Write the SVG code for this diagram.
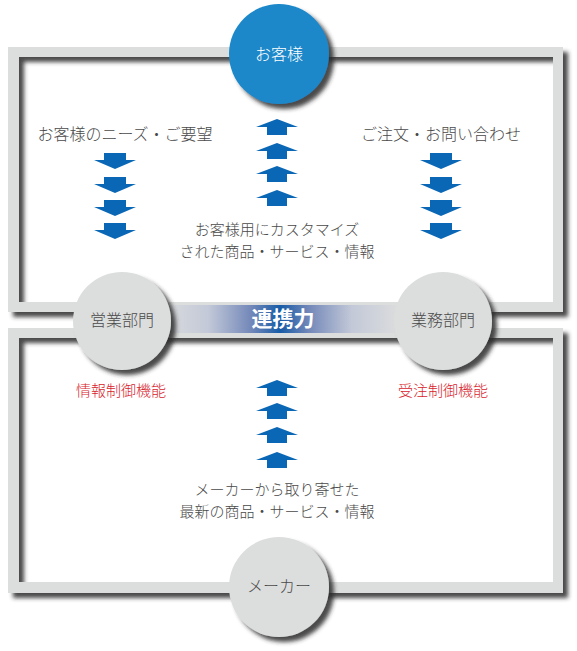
<svg xmlns="http://www.w3.org/2000/svg" width="577" height="651" viewBox="0 0 577 651">
<defs>
<filter id="sh" x="-20%" y="-20%" width="140%" height="140%">
<feDropShadow dx="5" dy="5" stdDeviation="2.2" flood-color="#2a2a2a" flood-opacity="0.85"/>
</filter>
<linearGradient id="barg" x1="0" y1="0" x2="1" y2="0">
<stop offset="0" stop-color="#dcdddd"/>
<stop offset="0.2" stop-color="#c3c9d8"/>
<stop offset="0.38" stop-color="#7388b9"/>
<stop offset="0.5" stop-color="#165ba6"/>
<stop offset="0.62" stop-color="#7388b9"/>
<stop offset="0.8" stop-color="#c3c9d8"/>
<stop offset="1" stop-color="#dcdddd"/>
</linearGradient>
<path id="down" d="M-11,0 H11 V7 H21 L0,16 L-21,7 H-11 Z"/>
<path id="up" d="M0,0 L21,8 H10 V16 H-10 V8 H-21 Z"/>
</defs>
<style>
.band{fill:#dcdddd;fill-rule:evenodd;filter:url(#sh)}
.gc{fill:#dcdddd;filter:url(#sh)}
.bc{fill:#1a87c9;filter:url(#sh)}
.t{font-family:"Noto Sans CJK JP","Noto Sans CJK SC",sans-serif;font-weight:300;font-size:16px;fill:#4a4a4a;text-anchor:middle}
.s{font-size:15px}
.w{fill:#ffffff}
.r{fill:#d7232b;font-size:15px}
.b{font-weight:700;font-size:21px;fill:#ffffff}
.arr{fill:#0a67b5}
</style>
<rect width="577" height="651" fill="#ffffff"/>
<g id="frames">
<path class="band" d="M8,47 H563 V312 H8 Z M19,57 V302 H553 V57 Z"/>
<path class="band" d="M8,328 H563 V593 H8 Z M19,338 V582 H553 V338 Z"/>
<rect id="bar" x="160" y="305" width="240" height="28" fill="url(#barg)"/>
<text class="t b" x="283" y="326">連携力</text>
</g>
<g id="connectors">
<g class="arr">
<use href="#down" x="115" y="153"/>
<use href="#down" x="115" y="177"/>
<use href="#down" x="115" y="200"/>
<use href="#down" x="115" y="223"/>
<use href="#down" x="441" y="153"/>
<use href="#down" x="441" y="177"/>
<use href="#down" x="441" y="200"/>
<use href="#down" x="441" y="223"/>
<use href="#up" x="277" y="119"/>
<use href="#up" x="277" y="143"/>
<use href="#up" x="277" y="166"/>
<use href="#up" x="277" y="190"/>
<use href="#up" x="277" y="380"/>
<use href="#up" x="277" y="403"/>
<use href="#up" x="277" y="427"/>
<use href="#up" x="277" y="452"/>
</g>
<text class="t" x="125" y="140">お客様のニーズ・ご要望</text>
<text class="t" x="441" y="140">ご注文・お問い合わせ</text>
<text class="t s" x="277" y="235">お客様用にカスタマイズ</text>
<text class="t s" x="277" y="257">された商品・サービス・情報</text>
<text class="t s" x="277" y="495">メーカーから取り寄せた</text>
<text class="t s" x="277" y="517">最新の商品・サービス・情報</text>
<text class="t r" x="121" y="396">情報制御機能</text>
<text class="t r" x="443" y="396">受注制御機能</text>
</g>
<g id="node-customer">
<circle class="bc" cx="279" cy="54" r="50"/>
<text class="t w" x="279" y="60">お客様</text>
</g>
<g id="node-sales">
<circle class="gc" cx="122" cy="321" r="49"/>
<text class="t" x="122" y="326">営業部門</text>
</g>
<g id="node-business">
<circle class="gc" cx="443" cy="321" r="49"/>
<text class="t" x="443" y="326">業務部門</text>
</g>
<g id="node-maker">
<circle class="gc" cx="279" cy="587" r="50"/>
<text class="t" x="279" y="592">メーカー</text>
</g>
</svg>
